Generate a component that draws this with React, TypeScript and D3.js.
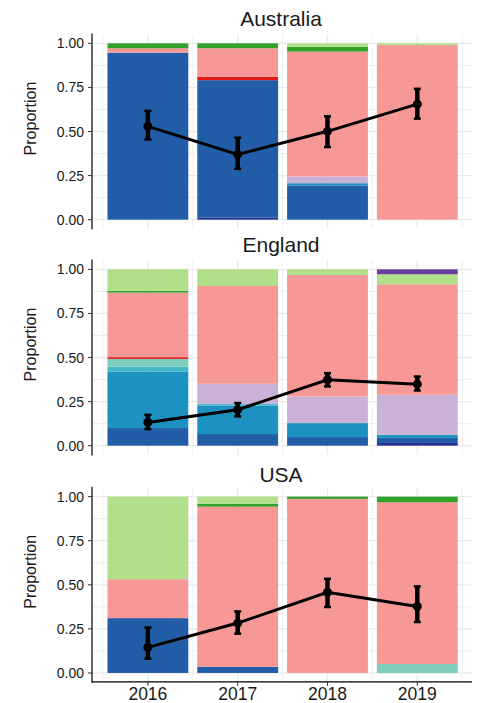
import { useEffect, useRef } from 'react'
import * as d3 from 'd3'

const years = ['2016', '2017', '2018', '2019']
const countries = ['Australia', 'England', 'USA']

// stack order, bottom to top
const lineages = ['L1', 'L2', 'L3', 'L4', 'L5', 'L6', 'L7', 'L8', 'L9', 'L10', 'L11']
const lineageColors = ['#253494', '#225ea8', '#1d91c0', '#41b6c4', '#7fcdbb', '#cab2d6', '#e31a1c', '#f59896', '#33a02c', '#b2df8a', '#6a3d9a']

// proportions per year, one value per lineage
const australiaShares = [
  [0, 0.947, 0, 0, 0, 0, 0, 0.025, 0.028, 0, 0],
  [0.013, 0.778, 0, 0, 0, 0, 0.019, 0.162, 0.028, 0, 0],
  [0, 0.194, 0.013, 0, 0, 0.038, 0, 0.708, 0.028, 0.019, 0],
  [0, 0, 0, 0, 0, 0, 0, 0.99, 0, 0.01, 0],
]
const englandShares = [
  [0, 0.1, 0.321, 0.028, 0.043, 0, 0.01, 0.366, 0.011, 0.121, 0],
  [0, 0.066, 0.162, 0.008, 0, 0.115, 0, 0.555, 0, 0.094, 0],
  [0, 0.049, 0.079, 0, 0, 0.151, 0, 0.689, 0, 0.032, 0],
  [0.02, 0.024, 0.018, 0, 0, 0.227, 0, 0.626, 0, 0.057, 0.028],
]
const usaShares = [
  [0, 0.311, 0, 0, 0, 0, 0, 0.221, 0, 0.468, 0],
  [0, 0.035, 0, 0, 0, 0, 0, 0.908, 0.017, 0.04, 0],
  [0, 0, 0, 0, 0, 0, 0, 0.987, 0.013, 0, 0],
  [0, 0, 0, 0, 0.051, 0, 0, 0.917, 0.032, 0, 0],
]

// estimated proportion with interval
const australiaMean = [0.529, 0.37, 0.501, 0.655]
const australiaLow = [0.455, 0.288, 0.412, 0.573]
const australiaHigh = [0.617, 0.465, 0.586, 0.742]
const englandMean = [0.132, 0.204, 0.374, 0.349]
const englandLow = [0.094, 0.166, 0.336, 0.313]
const englandHigh = [0.175, 0.242, 0.411, 0.392]
const usaMean = [0.145, 0.283, 0.458, 0.377]
const usaLow = [0.081, 0.223, 0.374, 0.289]
const usaHigh = [0.258, 0.349, 0.534, 0.491]

const yTicks = [0, 0.25, 0.5, 0.75, 1]
const yMinor = [0.125, 0.375, 0.625, 0.875]

export default function App() {
  const svgRef = useRef<SVGSVGElement | null>(null)

  useEffect(() => {
    if (!svgRef.current) return
    const width = 477
    const height = 703
    const font = '"Liberation Sans", Arial, sans-serif'

    const svg = d3.select(svgRef.current)
    svg.selectAll('*').remove()
    svg.attr('width', width).attr('height', height).style('background', '#fff')

    const panels = [
      { name: countries[0], shares: australiaShares, mean: australiaMean, lo: australiaLow, hi: australiaHigh, top: 34.5, titleY: 25.5 },
      { name: countries[1], shares: englandShares, mean: englandMean, lo: englandLow, hi: englandHigh, top: 260.5, titleY: 252 },
      { name: countries[2], shares: usaShares, mean: usaMean, lo: usaLow, hi: usaHigh, top: 487.8, titleY: 481.5 },
    ]
    const panelH = 194
    const left = 92
    const right = 472

    const x = d3.scaleLinear().domain([-0.6, 3.6]).range([94, 471.2])
    const barW = (x(1) - x(0)) * 0.9
    const color = d3.scaleOrdinal<string, string>().domain(lineages).range(lineageColors)

    panels.forEach((p, pi) => {
      const y = d3.scaleLinear().domain([-0.05, 1.05]).range([p.top + panelH, p.top])
      const g = svg.append('g')

      // grid
      const grid = g.append('g').attr('stroke', '#ebebeb').attr('stroke-width', 1)
      yMinor.forEach(v => grid.append('line').attr('x1', left).attr('x2', right).attr('y1', y(v)).attr('y2', y(v)).attr('stroke-width', 0.8))
      yTicks.forEach(v => grid.append('line').attr('x1', left).attr('x2', right).attr('y1', y(v)).attr('y2', y(v)).attr('stroke-width', 1.3))
      d3.range(-0.5, 4, 1).forEach(v => grid.append('line').attr('x1', x(v)).attr('x2', x(v)).attr('y1', p.top).attr('y2', p.top + panelH).attr('stroke-width', 0.8))
      years.forEach((_, i) => grid.append('line').attr('x1', x(i)).attr('x2', x(i)).attr('y1', p.top).attr('y2', p.top + panelH).attr('stroke-width', 1.3))

      // stacked bars
      const rows = p.shares.map((r, i) => {
        const o: any = { year: years[i], idx: i }
        lineages.forEach((l, j) => (o[l] = r[j]))
        return o
      })
      const series = d3.stack().keys(lineages)(rows)
      series.forEach(s => {
        g.append('g')
          .attr('fill', color(s.key))
          .selectAll('rect')
          .data(s.filter(d => d[1] - d[0] > 0))
          .enter()
          .append('rect')
          .attr('x', d => x((d.data as any).idx) - barW / 2)
          .attr('width', barW)
          .attr('y', d => y(d[1]))
          .attr('height', d => y(d[0]) - y(d[1]))
      })

      // line + error bars
      const line = d3.line<number>().x((_, i) => x(i)).y(d => y(d))
      g.append('path').attr('d', line(p.mean)).attr('fill', 'none').attr('stroke', '#000').attr('stroke-width', 3)
      p.mean.forEach((m, i) => {
        g.append('line').attr('x1', x(i)).attr('x2', x(i)).attr('y1', y(p.lo[i])).attr('y2', y(p.hi[i])).attr('stroke', '#000').attr('stroke-width', 4.5)
        ;[p.lo[i], p.hi[i]].forEach(v =>
          g.append('line').attr('x1', x(i) - 3.5).attr('x2', x(i) + 3.5).attr('y1', y(v)).attr('y2', y(v)).attr('stroke', '#000').attr('stroke-width', 2.5)
        )
        g.append('circle').attr('cx', x(i)).attr('cy', y(m)).attr('r', 4.5).attr('fill', '#000')
      })

      // y axis
      g.append('line').attr('x1', left).attr('x2', left).attr('y1', p.top - 1).attr('y2', p.top + panelH + 1).attr('stroke', '#000').attr('stroke-width', 1.2)
      yTicks.forEach(v => {
        g.append('line').attr('x1', left - 4).attr('x2', left).attr('y1', y(v)).attr('y2', y(v)).attr('stroke', '#333').attr('stroke-width', 1)
        g.append('text')
          .attr('x', left - 8)
          .attr('y', y(v))
          .attr('dy', '0.36em')
          .attr('text-anchor', 'end')
          .style('font-family', font)
          .style('font-size', '14px')
          .style('fill', '#1a1a1a')
          .text(d3.format('.2f')(v))
      })

      g.append('text')
        .attr('transform', `translate(36, ${p.top + panelH / 2 - 13}) rotate(-90)`)
        .attr('text-anchor', 'middle')
        .style('font-family', font)
        .style('font-size', '16px')
        .style('fill', '#1a1a1a')
        .text('Proportion')

      g.append('text')
        .attr('x', (left + right) / 2 - 1)
        .attr('y', p.titleY)
        .attr('text-anchor', 'middle')
        .style('font-family', font)
        .style('font-size', '21px')
        .style('fill', '#1a1a1a')
        .text(p.name)

      // x axis on last panel only
      if (pi === panels.length - 1) {
        const by = p.top + panelH
        g.append('line').attr('x1', left).attr('x2', right).attr('y1', by).attr('y2', by).attr('stroke', '#000').attr('stroke-width', 1.2)
        years.forEach((yr, i) => {
          g.append('line').attr('x1', x(i)).attr('x2', x(i)).attr('y1', by).attr('y2', by + 4).attr('stroke', '#333')
          g.append('text')
            .attr('x', x(i))
            .attr('y', by + 18.5)
            .attr('text-anchor', 'middle')
            .style('font-family', font)
            .style('font-size', '17.5px')
            .style('fill', '#1a1a1a')
            .text(yr)
        })
      }
    })
  }, [])

  return (
    <div style={{ position: 'absolute', left: 0, top: 0 }}>
      <svg ref={svgRef} style={{ display: 'block' }}></svg>
    </div>
  )
}
